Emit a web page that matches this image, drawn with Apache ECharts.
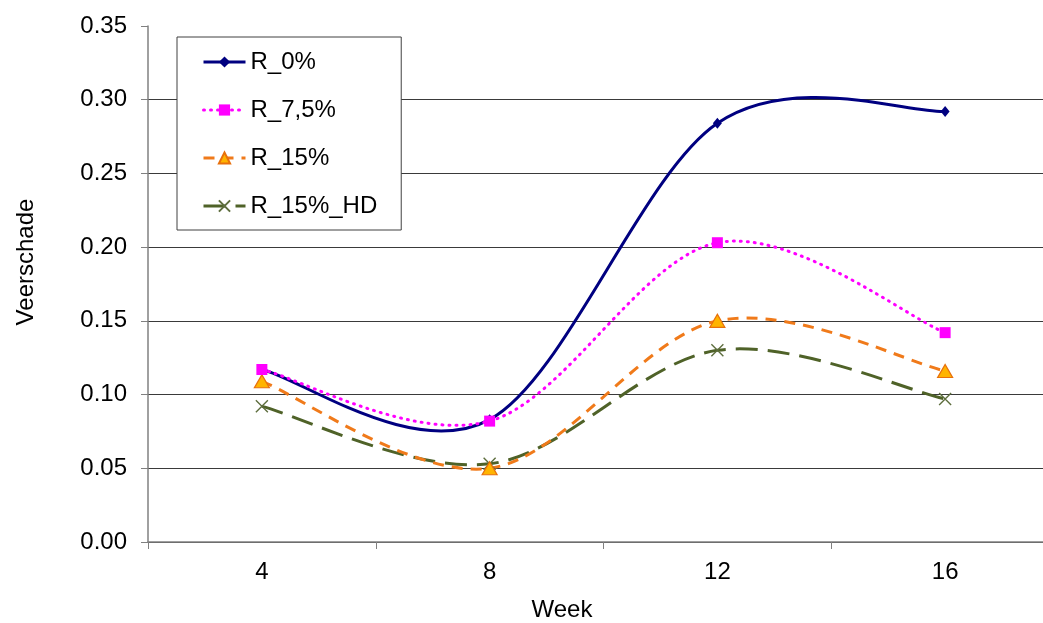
<!DOCTYPE html>
<html>
<head>
<meta charset="utf-8">
<script src="https://cdn.jsdelivr.net/npm/echarts@6/dist/echarts.min.js"></script>
<style>
html,body{margin:0;padding:0;background:#fff;}
#chart{width:1043px;height:623px;}
</style>
</head>
<body>
<div id="chart"></div>
<script>
var weeks = ['4', '8', '12', '16'];
var r0 = [0.117, 0.083, 0.284, 0.292];
var r75 = [0.117, 0.082, 0.203, 0.142];
var r15 = [0.109, 0.050, 0.150, 0.116];
var r15hd = [0.092, 0.053, 0.130, 0.097];
var yTicks = [0, 0.05, 0.10, 0.15, 0.20, 0.25, 0.30, 0.35];

var font = 'Liberation Sans, Arial, sans-serif';
var chart = echarts.init(document.getElementById('chart'));
var gridColors = yTicks.map(function (v, i) { return i === yTicks.length - 1 ? 'rgba(0,0,0,0)' : '#3a3a3a'; });
var xPath = 'path://M0,0L10,10M10,0L0,10';

var styles = {
  'R_0%': { color: '#000080', width: 3, type: 'solid', dash: null, cap: 'butt' },
  'R_7,5%': { color: '#ff00ff', width: 3, type: [1, 6], dash: [1, 6], cap: 'round' },
  'R_15%': { color: '#f07a1a', width: 3, type: [11, 8], dash: [11, 8], cap: 'butt' },
  'R_15%_HD': { color: '#4f6228', width: 3, type: [22, 10], dash: [22, 10], cap: 'butt' }
};

// Excel-like smoothed curve (Bezier with 1/6 tangents), points mapped through the axes
function smoothSeries(name, values, z) {
  var st = styles[name];
  return {
    type: 'custom',
    name: name + '_curve',
    data: values.map(function (v, i) { return [i, v]; }),
    z: z,
    silent: true,
    renderItem: function (params, api) {
      if (params.dataIndex !== 0) return null;
      var pts = values.map(function (v, i) { return api.coord([i, v]); });
      var n = pts.length;
      var d = 'M' + pts[0][0] + ' ' + pts[0][1];
      for (var i = 0; i < n - 1; i++) {
        var p0 = pts[Math.max(i - 1, 0)], p1 = pts[i], p2 = pts[i + 1], p3 = pts[Math.min(i + 2, n - 1)];
        var c1x = p1[0] + (p2[0] - p0[0]) / 6, c1y = p1[1] + (p2[1] - p0[1]) / 6;
        var c2x = p2[0] - (p3[0] - p1[0]) / 6, c2y = p2[1] - (p3[1] - p1[1]) / 6;
        d += ' C' + c1x + ' ' + c1y + ' ' + c2x + ' ' + c2y + ' ' + p2[0] + ' ' + p2[1];
      }
      return {
        type: 'path',
        shape: { pathData: d },
        style: { fill: 'none', stroke: st.color, lineWidth: st.width, lineDash: st.dash, lineCap: st.cap }
      };
    }
  };
}

function legendItem(name) {
  var st = styles[name];
  return { name: name, lineStyle: { color: st.color, width: st.width, type: st.type, opacity: 1, cap: st.cap } };
}

chart.setOption({
  animation: false,
  backgroundColor: '#ffffff',
  textStyle: { fontFamily: font },
  grid: { left: 148, top: 26, width: 911, height: 516, containLabel: false, outerBoundsMode: 'none' },
  legend: {
    orient: 'vertical',
    left: 177,
    top: 37,
    padding: [13, 24, 12, 25],
    itemGap: 24,
    itemWidth: 42,
    itemHeight: 14,
    borderColor: '#404040',
    borderWidth: 1,
    backgroundColor: '#ffffff',
    textStyle: { fontFamily: font, fontSize: 24, color: '#000' },
    data: ['R_0%', 'R_7,5%', 'R_15%', 'R_15%_HD'].map(legendItem)
  },
  xAxis: {
    type: 'category',
    data: weeks,
    boundaryGap: true,
    name: 'Week',
    nameLocation: 'middle',
    nameGap: 56,
    nameTextStyle: { fontFamily: font, fontSize: 24, color: '#000', padding: [0, 83, 0, 0] },
    axisLine: { lineStyle: { color: '#808080', width: 1.5 } },
    axisTick: { show: true, length: 7, alignWithLabel: false, lineStyle: { color: '#808080' } },
    axisLabel: { fontFamily: font, fontSize: 24, color: '#000', margin: 18 },
    splitLine: { show: false }
  },
  yAxis: {
    type: 'value',
    min: 0,
    max: 0.35,
    interval: 0.05,
    name: 'Veerschade',
    nameLocation: 'middle',
    nameGap: 110,
    nameRotate: 90,
    nameTextStyle: { fontFamily: font, fontSize: 24, color: '#000', padding: [0, 0, 0, 44] },
    axisLine: { show: true, lineStyle: { color: '#808080', width: 1.5 } },
    axisTick: { show: true, length: 7, lineStyle: { color: '#808080' } },
    axisLabel: {
      fontFamily: font, fontSize: 24, color: '#000', margin: 21,
      formatter: function (v) { return v.toFixed(2); }
    },
    splitLine: { show: true, lineStyle: { color: gridColors, width: 1 } }
  },
  series: [
    smoothSeries('R_15%_HD', r15hd, 2),
    smoothSeries('R_15%', r15, 3),
    smoothSeries('R_0%', r0, 4),
    smoothSeries('R_7,5%', r75, 5),
    {
      name: 'R_0%', type: 'line', data: r0,
      symbol: 'diamond', symbolSize: [9, 11],
      lineStyle: { color: '#000080', width: 3, opacity: 0 },
      itemStyle: { color: '#000080' },
      z: 7
    },
    {
      name: 'R_7,5%', type: 'line', data: r75,
      symbol: 'rect', symbolSize: 11,
      lineStyle: { color: '#ff00ff', width: 3, opacity: 0 },
      itemStyle: { color: '#ff00ff' },
      z: 8
    },
    {
      name: 'R_15%', type: 'line', data: r15,
      symbol: 'triangle', symbolSize: [15, 13],
      lineStyle: { color: '#f07a1a', width: 3, opacity: 0 },
      itemStyle: { color: '#ffb400', borderColor: '#e8700c', borderWidth: 1.2 },
      z: 7
    },
    {
      name: 'R_15%_HD', type: 'line', data: r15hd,
      symbol: xPath, symbolSize: 12,
      lineStyle: { color: '#4f6228', width: 3, opacity: 0 },
      itemStyle: { color: 'rgba(0,0,0,0)', borderColor: '#5e6e3e', borderWidth: 1.4 },
      z: 6
    }
  ]
});
</script>
</body>
</html>
